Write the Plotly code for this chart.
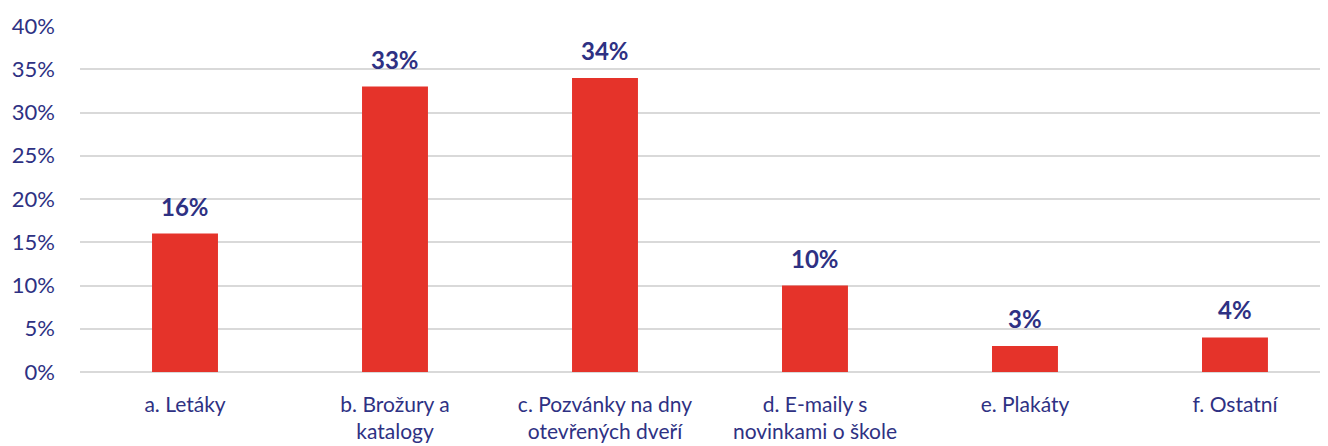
import plotly.graph_objects as go

categories = ["a. Letáky", "b. Brožury a<br>katalogy", "c. Pozvánky na dny<br>otevřených dveří",
              "d. E-maily s<br>novinkami o škole", "e. Plakáty", "f. Ostatní"]
values = [0.16, 0.33, 0.34, 0.10, 0.03, 0.04]
labels = ["16%", "33%", "34%", "10%", "3%", "4%"]

NAVY = "#2E3183"
RED = "#E5332A"
FONT = "Lato"

fig = go.Figure(go.Bar(x=categories, y=values, marker=dict(color=RED, line=dict(width=0)),
                       width=0.314, hoverinfo="skip"))

for c, v, t in zip(categories, values, labels):
    fig.add_annotation(x=c, y=v, text="<b>%s</b>" % t, showarrow=False, yanchor="bottom",
                       yshift=11, font=dict(family=FONT, size=24, color=NAVY))

fig.update_layout(
    width=1328, height=446,
    margin=dict(l=72, r=8, t=18, b=82, autoexpand=False),
    plot_bgcolor="white", paper_bgcolor="white",
    showlegend=False,
    font=dict(family=FONT, color=NAVY, size=21),
    xaxis=dict(range=[-0.5, 5.443], showgrid=False, showline=False, zeroline=False,
               automargin=False, ticks="", tickfont=dict(size=21, color=NAVY),
               ticklabelstandoff=18),
    yaxis=dict(range=[0, 0.40], dtick=0.05, tickformat=".0%", showgrid=True,
               gridcolor="#D9D9D9", gridwidth=1.5, zeroline=True, zerolinecolor="#D9D9D9",
               zerolinewidth=1.5, showline=False, ticks="", automargin=False,
               tickfont=dict(size=22, color=NAVY), ticklabelstandoff=24),
)

fig.write_html("out.html")
